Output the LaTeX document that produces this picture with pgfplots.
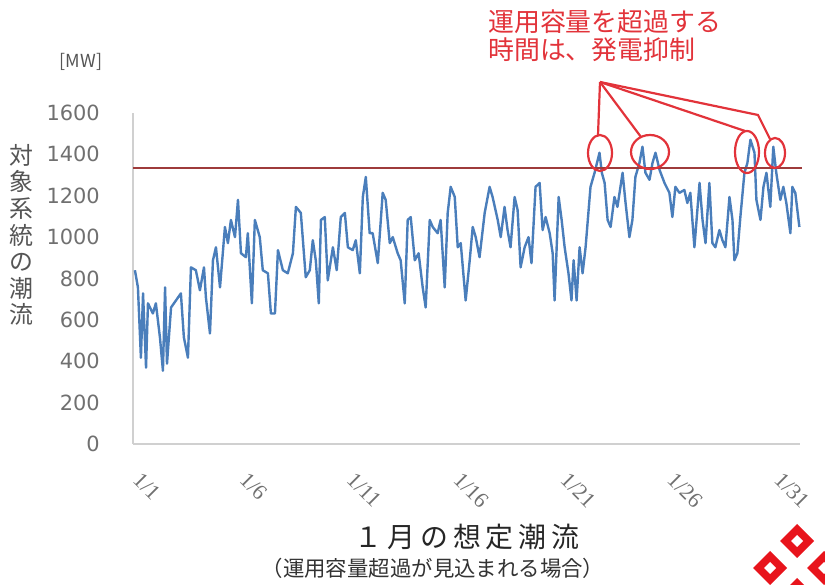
\documentclass[border=0pt]{standalone}
\usepackage{pgfplots}
\pgfplotsset{compat=1.18}
\usepackage{fontspec}
\newfontfamily\cjk{Noto Sans CJK JP}
\newfontfamily\dvs{DejaVu Sans}
\newfontfamily\lser{Liberation Serif}
\definecolor{flowblue}{HTML}{4A7EBB}
\definecolor{limitred}{HTML}{9E3B3B}
\definecolor{noteRed}{HTML}{E2333A}
\definecolor{tickgray}{HTML}{707070}
\definecolor{labelgray}{HTML}{555555}
\definecolor{spinegray}{HTML}{D0D0D0}
\definecolor{logored}{HTML}{E8141C}

% hourly flow of the target system, January (MW), sampled along the curve
\pgfplotstableread{
day   mw
1.09  840
1.23  757
1.37  417
1.47  728
1.61  369
1.70  680
1.93  631
2.07  680
2.26  515
2.40  354
2.50  757
2.59  388
2.78  660
3.01  694
3.24  728
3.38  515
3.57  417
3.71  854
3.94  840
4.13  743
4.32  854
4.41  709
4.60  534
4.74  888
4.88  951
5.07  757
5.30  1049
5.44  971
5.58  1083
5.77  1000
5.91  1180
6.05  922
6.28  903
6.37  1019
6.56  680
6.70  1083
6.93  1000
7.07  840
7.31  825
7.45  631
7.64  631
7.78  937
8.01  840
8.24  825
8.48  922
8.62  1146
8.85  1117
9.08  806
9.27  840
9.41  985
9.55  888
9.69  680
9.79  1083
9.97  1097
10.11 791
10.35 951
10.53 840
10.72 1097
10.91 1117
11.05 951
11.28 937
11.42 985
11.61 825
11.75 1194
11.89 1291
12.07 1019
12.21 1019
12.45 874
12.68 1214
12.82 1180
13.01 971
13.15 1000
13.38 922
13.52 888
13.71 680
13.85 1083
13.99 1097
14.18 888
14.36 922
14.55 757
14.69 660
14.88 1083
15.02 1049
15.25 1019
15.39 1083
15.58 757
15.72 1117
15.86 1243
16.05 1194
16.19 951
16.33 971
16.56 694
16.75 888
16.89 1049
17.03 1000
17.21 903
17.45 1117
17.68 1243
17.82 1194
18.06 1083
18.20 1000
18.38 1146
18.52 1034
18.66 951
18.85 1194
18.99 1131
19.13 854
19.32 951
19.50 1000
19.64 874
19.83 1243
20.02 1262
20.16 1034
20.30 1097
20.49 1019
20.63 922
20.72 694
20.91 1194
21.05 1083
21.19 951
21.37 825
21.51 694
21.61 888
21.75 694
21.89 951
22.03 825
22.17 951
22.40 1243
22.59 1311
22.82 1408
22.93 1311
23.06 1262
23.20 1083
23.34 1049
23.52 1194
23.66 1146
23.90 1311
24.04 1165
24.22 1000
24.36 1083
24.50 1291
24.69 1359
24.83 1437
24.97 1311
25.16 1277
25.30 1359
25.44 1408
25.63 1325
25.86 1262
26.09 1214
26.23 1097
26.37 1243
26.56 1214
26.79 1228
26.93 1165
27.07 1214
27.26 951
27.50 1262
27.64 1083
27.78 971
27.96 1262
28.10 971
28.24 951
28.43 1034
28.57 985
28.71 951
28.90 1194
29.04 1083
29.13 888
29.27 922
29.41 1097
29.60 1311
29.74 1359
29.88 1471
30.07 1408
30.16 1180
30.35 1083
30.49 1243
30.63 1311
30.81 1146
30.95 1437
31.09 1311
31.28 1180
31.42 1243
31.56 1165
31.75 1019
31.84 1243
31.98 1214
32.17 1049
}\flowdata

\begin{document}
\begin{tikzpicture}[x=1bp,y=1bp]
\path[use as bounding box] (0,0) rectangle (825,585);

\begin{axis}[
  at={(133bp,141bp)}, anchor=south west,
  scale only axis, width=667bp, height=331bp,
  xmin=1, xmax=32.2, ymin=0, ymax=1600,
  axis x line*=bottom, axis y line*=left,
  axis line style={spinegray, line width=1.4bp},
  major tick length=0pt,
  xtick={1,6,11,16,21,26,31},
  xticklabels={1/1,1/6,1/11,1/16,1/21,1/26,1/31},
  ytick={0,200,...,1600},
  /pgf/number format/1000 sep={},
  /pgf/number format/assume math mode=true,
  xticklabel style={font=\lser\fontsize{22}{22}\selectfont, text=tickgray,
    inner sep=0pt, anchor=north west, xshift=9bp, yshift=-27bp, rotate=-45},
  yticklabel style={font=\dvs\fontsize{21}{21}\selectfont, text=tickgray,
    inner sep=0pt, anchor=east, xshift=-33bp},
  clip=false,
]
\addplot[flowblue, line width=2.4bp, line join=round, no marks] table[x=day, y=mw] {\flowdata};
% operating capacity
\addplot[limitred, line width=1.3bp, no marks] coordinates {(1,1334) (32.3,1334)};
\end{axis}

% hours above the operating capacity
\begin{scope}[noteRed, line width=2.2bp]
  \draw (600,432) ellipse [x radius=12, y radius=18];
  \draw (650,433) ellipse [x radius=19, y radius=17];
  \draw (747,433) ellipse [x radius=12, y radius=21];
  \draw (775,432) ellipse [x radius=10, y radius=15];
  \draw (600,503) -- (598,450);
  \draw (600,503) -- (641,448);
  \draw (600,503) -- (745,454);
  \draw (600,503) -- (758,470) -- (770,446);
\end{scope}
\node[anchor=west, inner sep=0pt, text=noteRed, font=\cjk\fontsize{26}{26}\selectfont] at (488,563) {運用容量を超過する};
\node[anchor=west, inner sep=0pt, text=noteRed, font=\cjk\fontsize{26}{26}\selectfont] at (488,535) {時間は、発電抑制};

% axis captions
\node[align=center, inner sep=0pt, text=labelgray, font=\cjk\fontsize{24}{26.7}\selectfont] at (21,350) {対\\象\\系\\統\\の\\潮\\流};
\node[inner sep=0pt, text=labelgray, font=\cjk\fontsize{18}{18}\selectfont] at (81,523) {[MW]};

% titles
\node[inner sep=0pt, text=black!85, font=\cjk\fontsize{28}{28}\selectfont] at (467,48) {１\kern5bp 月\kern5bp の\kern5bp 想\kern5bp 定\kern5bp 潮\kern5bp 流};
\node[inner sep=0pt, text=black!80, font=\cjk\fontsize{21.5}{21.5}\selectfont] at (433,17) {（運用容量超過が見込まれる場合）};

% emblem
\begin{scope}
  \clip (0,0) rectangle (825,585);
  \foreach \cx/\cy in {770/17, 797/44, 824/17, 797/-10} {
    \fill[logored] (\cx-17,\cy) -- (\cx,\cy+17) -- (\cx+17,\cy) -- (\cx,\cy-17) -- cycle;
    \fill[white] (\cx-6,\cy) -- (\cx,\cy+6) -- (\cx+6,\cy) -- (\cx,\cy-6) -- cycle;
  }
\end{scope}
\end{tikzpicture}
\end{document}
